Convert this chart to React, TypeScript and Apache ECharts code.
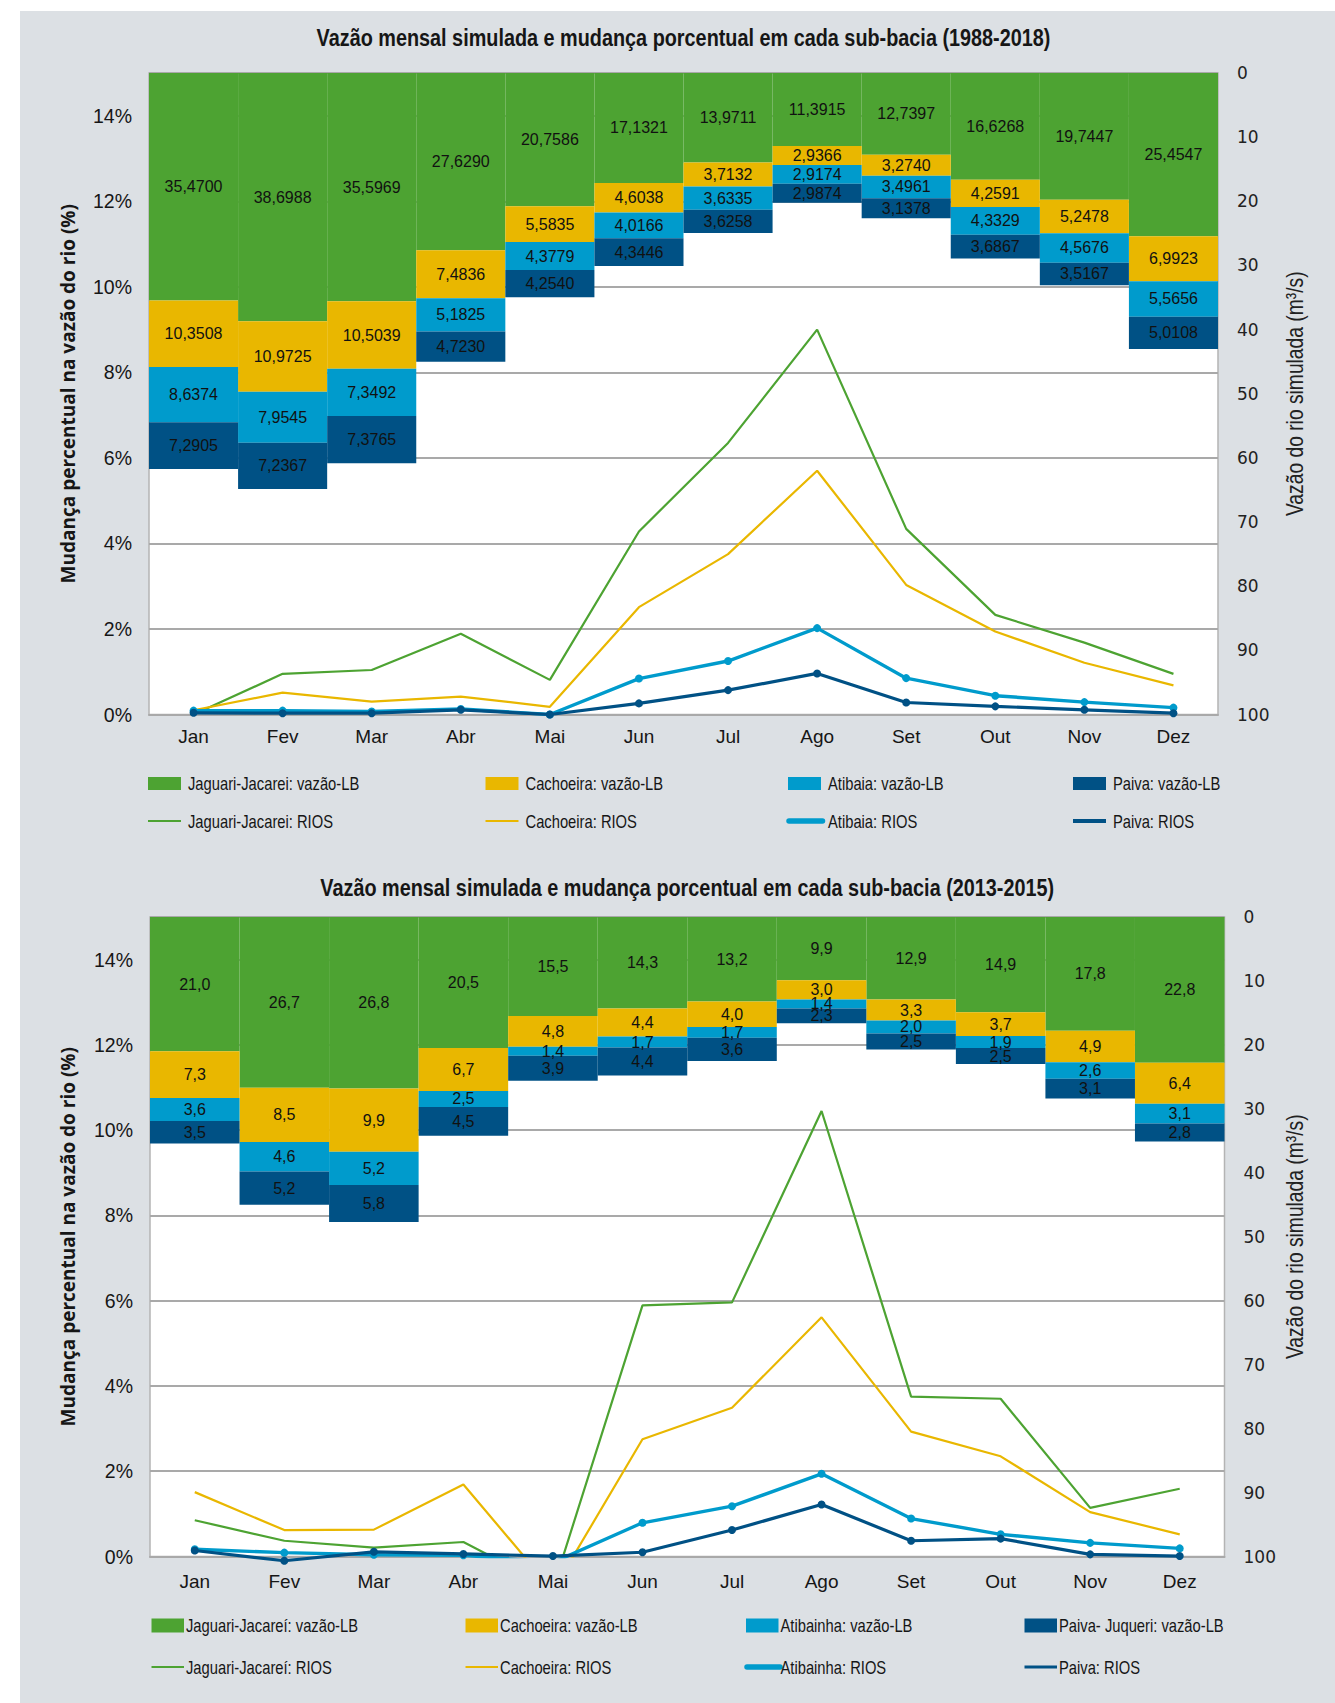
import React, { useEffect, useRef } from 'react';
import * as echarts from 'echarts';

// ---------- data ----------
const months = ['Jan', 'Fev', 'Mar', 'Abr', 'Mai', 'Jun', 'Jul', 'Ago', 'Set', 'Out', 'Nov', 'Dez'];

// Chart 1 (1988-2018): simulated monthly flow (m³/s), stacked
const jagVazao1 = [35.47, 38.6988, 35.5969, 27.629, 20.7586, 17.1321, 13.9711, 11.3915, 12.7397, 16.6268, 19.7447, 25.4547];
const cachVazao1 = [10.3508, 10.9725, 10.5039, 7.4836, 5.5835, 4.6038, 3.7132, 2.9366, 3.274, 4.2591, 5.2478, 6.9923];
const atiVazao1 = [8.6374, 7.9545, 7.3492, 5.1825, 4.3779, 4.0166, 3.6335, 2.9174, 3.4961, 4.3329, 4.5676, 5.5656];
const paiVazao1 = [7.2905, 7.2367, 7.3765, 4.723, 4.254, 4.3446, 3.6258, 2.9874, 3.1378, 3.6867, 3.5167, 5.0108];
// Chart 1: percentage change (%)
const jagRios1 = [0.0, 0.95, 1.04, 1.89, 0.81, 4.28, 6.35, 9.0, 4.34, 2.33, 1.68, 0.95];
const cachRios1 = [0.1, 0.51, 0.3, 0.42, 0.18, 2.51, 3.75, 5.7, 3.03, 1.94, 1.21, 0.68];
const atiRios1 = [0.09, 0.09, 0.07, 0.13, 0.0, 0.84, 1.25, 2.02, 0.85, 0.44, 0.29, 0.16];
const paiRios1 = [0.04, 0.03, 0.03, 0.11, 0.0, 0.26, 0.57, 0.96, 0.28, 0.19, 0.11, 0.03];

// Chart 2 (2013-2015)
const jagVazao2 = [21.0, 26.7, 26.8, 20.5, 15.5, 14.3, 13.2, 9.9, 12.9, 14.9, 17.8, 22.8];
const cachVazao2 = [7.3, 8.5, 9.9, 6.7, 4.8, 4.4, 4.0, 3.0, 3.3, 3.7, 4.9, 6.4];
const atiVazao2 = [3.6, 4.6, 5.2, 2.5, 1.4, 1.7, 1.7, 1.4, 2.0, 1.9, 2.6, 3.1];
const paiVazao2 = [3.5, 5.2, 5.8, 4.5, 3.9, 4.4, 3.6, 2.3, 2.5, 2.5, 3.1, 2.8];
const jagRios2 = [0.85, 0.37, 0.21, 0.34, -0.75, 5.89, 5.96, 10.45, 3.75, 3.7, 1.14, 1.59];
const cachRios2 = [1.51, 0.62, 0.63, 1.69, -0.8, 2.75, 3.49, 5.61, 2.93, 2.35, 1.04, 0.52];
const atiRios2 = [0.17, 0.09, 0.04, 0.03, -0.14, 0.79, 1.18, 1.94, 0.89, 0.52, 0.32, 0.19];
const paiRios2 = [0.14, -0.1, 0.11, 0.06, 0.01, 0.1, 0.62, 1.22, 0.37, 0.42, 0.05, 0.01];

const names1 = ['Jaguari-Jacarei: vazão-LB', 'Cachoeira: vazão-LB', 'Atibaia: vazão-LB', 'Paiva: vazão-LB',
  'Jaguari-Jacarei: RIOS', 'Cachoeira: RIOS', 'Atibaia: RIOS', 'Paiva: RIOS'];
const names2 = ['Jaguari-Jacareí: vazão-LB', 'Cachoeira: vazão-LB', 'Atibainha: vazão-LB', 'Paiva- Juqueri: vazão-LB',
  'Jaguari-Jacareí: RIOS', 'Cachoeira: RIOS', 'Atibainha: RIOS', 'Paiva: RIOS'];

const title1 = 'Vazão mensal simulada e mudança porcentual em cada sub-bacia (1988-2018)';
const title2 = 'Vazão mensal simulada e mudança porcentual em cada sub-bacia (2013-2015)';
const leftName = 'Mudança percentual na vazão do rio (%)';
const rightName = 'Vazão do rio simulada (m³/s)';

const pctMin = 0, pctMax = 15, pctStep = 2;
const flowMin = 0, flowMax = 100, flowStep = 10;

// ---------- styles ----------
const SANS = "'Liberation Sans', Arial, sans-serif";
const WIDE = "'Open Sans', 'Noto Sans', sans-serif";
const ROUND = "'DejaVu Sans', sans-serif";
const NARROW_SCALE = 0.82;
const COLORS = ['#4da332', '#e9b700', '#009bcc', '#005185'];
const LINE_W = [2.2, 2.2, 3.4, 3.2];
const TEXT = '#161616';
const GRIDLINE = '#a9a9a9';

type Cfg = {
  grid: { left: number; top: number; width: number; height: number };
  bars: number[][];
  lines: number[][];
  names: string[];
  decimals: number;
  title: string;
  titleY: number;
  xMargin: number;
  legendX: number[];
  legendRowY: number[];
  legendIcon: [number, number];
  legendTextGap: number;
  legendLineW: number[];
};

const cfgs: Cfg[] = [
  {
    grid: { left: 149, top: 73, width: 1069, height: 641.5 },
    bars: [jagVazao1, cachVazao1, atiVazao1, paiVazao1],
    lines: [jagRios1, cachRios1, atiRios1, paiRios1],
    names: names1,
    decimals: 4,
    title: title1,
    titleY: 38,
    xMargin: 12,
    legendX: [148, 485.5, 788, 1073],
    legendRowY: [783.5, 821],
    legendIcon: [33, 13],
    legendTextGap: 40,
    legendLineW: [2.2, 2.2, 5.5, 4],
  },
  {
    grid: { left: 150, top: 917, width: 1074.5, height: 639.5 },
    bars: [jagVazao2, cachVazao2, atiVazao2, paiVazao2],
    lines: [jagRios2, cachRios2, atiRios2, paiRios2],
    names: names2,
    decimals: 1,
    title: title2,
    titleY: 888,
    xMargin: 15,
    legendX: [151.5, 465.5, 746, 1024.5],
    legendRowY: [1625.5, 1667],
    legendIcon: [32.5, 14],
    legendTextGap: 34.5,
    legendLineW: [2.2, 2.2, 5.5, 3],
  },
];

function buildOption() {
  const grid: any[] = [];
  const xAxis: any[] = [];
  const yAxis: any[] = [];
  const series: any[] = [];
  const graphic: any[] = [];

  cfgs.forEach((c, i) => {
    grid.push({
      ...c.grid,
      show: true,
      backgroundColor: '#ffffff',
      borderColor: '#b4b4b4',
      borderWidth: 1.5,
      containLabel: false,
    });
    xAxis.push({
      type: 'category',
      gridIndex: i,
      data: months,
      boundaryGap: true,
      axisTick: { show: false },
      axisLine: { show: true, lineStyle: { color: GRIDLINE, width: 2 } },
      axisLabel: { color: TEXT, fontFamily: SANS, fontSize: 19, margin: c.xMargin },
    });
    yAxis.push({
      type: 'value',
      gridIndex: i,
      position: 'left',
      min: pctMin,
      max: pctMax,
      interval: pctStep,
      axisLine: { show: false },
      axisTick: { show: false },
      splitLine: { show: true, lineStyle: { color: GRIDLINE, width: 2 } },
      axisLabel: {
        color: TEXT, fontFamily: SANS, fontSize: 19.5, margin: 17,
        formatter: (v: number) => (v === pctMax ? '' : v + '%'),
      },
    });
    yAxis.push({
      type: 'value',
      gridIndex: i,
      position: 'right',
      inverse: true,
      min: flowMin,
      max: flowMax,
      interval: flowStep,
      axisLine: { show: false },
      axisTick: { show: false },
      splitLine: { show: false },
      axisLabel: { color: '#222', fontFamily: ROUND, fontSize: 17, margin: 19, align: 'left' },
    });

    c.bars.forEach((d, k) => {
      series.push({
        type: 'bar',
        name: c.names[k],
        xAxisIndex: i,
        yAxisIndex: 2 * i + 1,
        stack: 'vazao' + i,
        data: d,
        barWidth: '100%',
        barCategoryGap: 0,
        silent: true,
        itemStyle: { color: COLORS[k] },
        label: {
          show: true,
          position: 'inside',
          color: '#111',
          fontFamily: SANS,
          fontSize: 16,
          formatter: (p: any) => Number(p.value).toFixed(c.decimals).replace('.', ','),
        },
        z: 2,
      });
    });
    c.lines.forEach((d, k) => {
      const marker = k >= 2;
      series.push({
        type: 'line',
        name: c.names[4 + k],
        xAxisIndex: i,
        yAxisIndex: 2 * i,
        data: d,
        silent: true,
        symbol: marker ? 'circle' : 'none',
        symbolSize: 8,
        showSymbol: marker,
        clip: k !== 3,
        lineStyle: { color: COLORS[k], width: LINE_W[k] },
        itemStyle: { color: COLORS[k] },
        z: 5 + k,
      });
    });

    // legend (drawn as graphic so the condensed look can be kept)
    const [iw, ih] = c.legendIcon;
    for (let k = 0; k < 8; k++) {
      const row = k < 4 ? 0 : 1;
      const col = k % 4;
      const lx = c.legendX[col];
      const cy = c.legendRowY[row];
      const children: any[] = [];
      if (row === 0) {
        children.push({
          type: 'rect',
          shape: { x: lx, y: cy - ih / 2, width: iw, height: ih },
          style: { fill: COLORS[col] },
        });
      } else {
        const round = col === 2;
        children.push({
          type: 'line',
          shape: { x1: lx + (round ? 1 : 0), y1: cy, x2: lx + iw + (round ? 1.5 : 0), y2: cy },
          style: { stroke: COLORS[col], lineWidth: c.legendLineW[col], lineCap: round ? 'round' : 'butt' },
        });
      }
      children.push({
        type: 'text',
        x: lx + c.legendTextGap,
        y: cy,
        scaleX: NARROW_SCALE,
        style: {
          text: c.names[k], fill: TEXT, fontFamily: SANS, fontSize: 18,
          align: 'left', verticalAlign: 'middle',
        },
      });
      graphic.push({ type: 'group', children });
    }

    const cx = c.grid.left + c.grid.width / 2;
    const cy = c.grid.top + c.grid.height / 2;
    graphic.push({
      type: 'text',
      x: cx,
      y: c.titleY,
      scaleX: NARROW_SCALE,
      style: {
        text: c.title, fill: TEXT, fontFamily: SANS, fontWeight: 'bold', fontSize: 24.2,
        align: 'center', verticalAlign: 'middle',
      },
    });
    graphic.push({
      type: 'text',
      x: 68,
      y: cy,
      rotation: Math.PI / 2,
      style: {
        text: leftName, fill: TEXT, fontFamily: WIDE, fontWeight: 'bold', fontSize: 19,
        align: 'center', verticalAlign: 'middle',
      },
    });
    graphic.push({
      type: 'text',
      x: 1295,
      y: cy,
      rotation: Math.PI / 2,
      scaleX: NARROW_SCALE,
      style: {
        text: rightName, fill: '#222', fontFamily: SANS, fontSize: 23.5,
        align: 'center', verticalAlign: 'middle',
      },
    });
  });

  return {
    animation: false,
    backgroundColor: 'transparent',
    grid, xAxis, yAxis, series,
    graphic: { elements: graphic },
  };
}

export default function App() {
  const ref = useRef<HTMLDivElement>(null);
  useEffect(() => {
    document.body.style.margin = '0';
    document.body.style.overflow = 'hidden';
    if (!ref.current) return;
    const chart = echarts.init(ref.current, undefined, { renderer: 'svg', width: 1335, height: 1703 });
    chart.setOption(buildOption() as any);
    return () => chart.dispose();
  }, []);
  return (
    <div style={{ position: 'relative', width: 1335, height: 1703, background: '#ffffff' }}>
      <div style={{ position: 'absolute', left: 20, top: 11, width: 1315, height: 1692, background: '#dce0e4' }} />
      <div ref={ref} style={{ position: 'absolute', left: 0, top: 0, width: 1335, height: 1703 }} />
    </div>
  );
}
